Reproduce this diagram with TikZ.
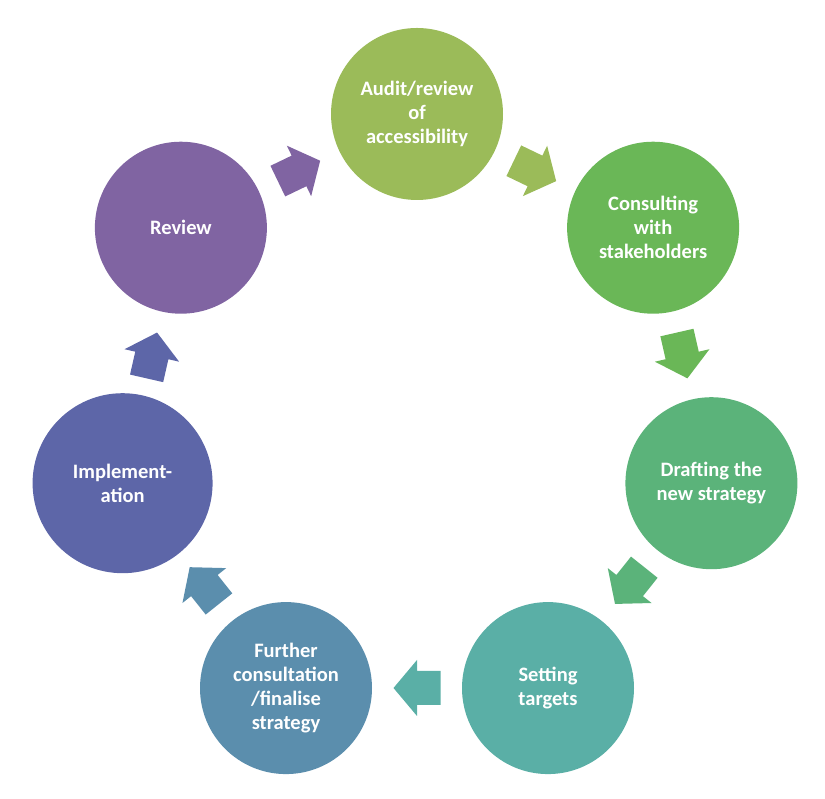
\documentclass[tikz,border=0pt]{standalone}
\usepackage{fontspec}
\setmainfont{Carlito}
\definecolor{cAudit}{HTML}{9BBB59}
\definecolor{cConsult}{HTML}{6AB757}
\definecolor{cDraft}{HTML}{5BB37A}
\definecolor{cTarget}{HTML}{5AAFA6}
\definecolor{cFurther}{HTML}{5B8EAD}
\definecolor{cImpl}{HTML}{5D66A8}
\definecolor{cReview}{HTML}{8064A2}
\begin{document}
\begin{tikzpicture}[x=1pt,y=1pt,
	stage/.style={circle,minimum size=172pt,inner sep=0pt,text=white,align=center,
		font=\bfseries\fontsize{20.5}{24}\selectfont}]
	\useasboundingbox (0,0) rectangle (825,799);
	\begin{scope}[shift={(417,383)}]
		\node[stage,fill=cAudit] (audit) at (90:302) {Audit/review\\of\\accessibility};
		\node[stage,fill=cConsult] (consult) at (38.57:302) {Consulting\\with\\stakeholders};
		\node[stage,fill=cDraft] (draft) at (-12.86:302) {Drafting the\\new strategy};
		\node[stage,fill=cTarget] (target) at (-64.29:302) {Setting\\targets};
		\node[stage,fill=cFurther] (further) at (-115.71:302) {Further\\consultation\\/finalise\\strategy};
		\node[stage,fill=cImpl,minimum size=180pt] (impl) at (-167.14:302) {Implement-\\ation};
		\node[stage,fill=cReview] (review) at (141.43:302) {Review};
		% block arrows between the stages
		\foreach \a/\c in {64.29/cAudit,12.86/cConsult,-38.57/cDraft,-90/cTarget,-141.43/cFurther,167.14/cImpl,115.71/cReview}{
			\fill[\c,shift={(\a:272)},rotate=\a-90] (-23.5,17) -- (0,17) -- (0,28) -- (23.5,0) -- (0,-28) -- (0,-17) -- (-23.5,-17) -- cycle;
		}
	\end{scope}
\end{tikzpicture}
\end{document}
